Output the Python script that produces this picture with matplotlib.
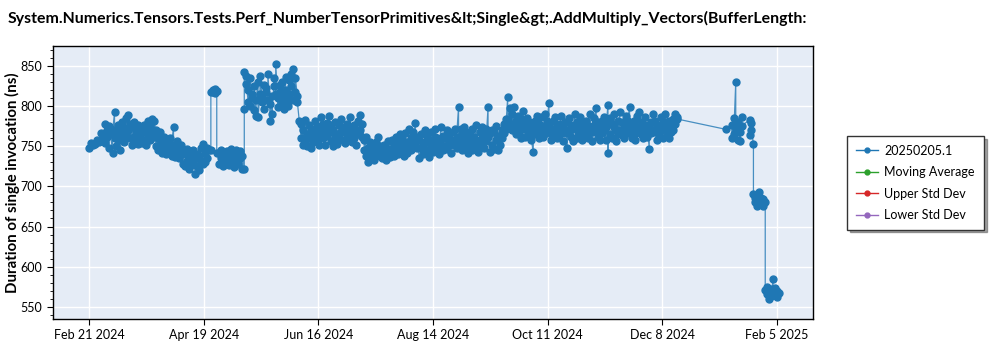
import datetime as dt
import matplotlib
matplotlib.use("Agg")
import matplotlib.pyplot as plt
import matplotlib.dates as mdates
from matplotlib.lines import Line2D
from matplotlib.ticker import MultipleLocator

plt.rcParams['font.family'] = ['Lato', 'DejaVu Sans']

title = "System.Numerics.Tensors.Tests.Perf_NumberTensorPrimitives&lt;Single&gt;.AddMultiply_Vectors(BufferLength:"
legend_names = ["20250205.1", "Moving Average", "Upper Std Dev", "Lower Std Dev"]
legend_colors = ["#1f77b4", "#2ca02c", "#d62728", "#9467bd"]
tick_labels = ["Feb 21 2024", "Apr 19 2024", "Jun 16 2024", "Aug 14 2024",
               "Oct 11 2024", "Dec 8 2024", "Feb 5 2025"]

# runs per day, each segment starts at a day offset from Feb 21 2024
base = dt.datetime(2024, 2, 21)

start_a = 0
runs_a = [[748], [754], [752], [753], [758], [755], [767], [760], [754, 778], [770, 762],
          [775, 748], [772, 765], [742, 768], [792, 760], [770, 750], [776, 758], [768, 745],
          [780, 762], [773, 755], [785, 764], [789, 770], [760, 778], [752, 774], [780, 762],
          [768, 756], [777, 753], [760, 772], [754, 768], [776, 758], [770, 752], [781, 763],
          [758, 775], [784, 766], [762, 782], [770, 750], [760, 745], [768, 752], [757, 742],
          [748, 762], [755, 740], [744, 758], [760, 748], [738, 752], [774, 745], [750, 737],
          [742, 756], [735, 748], [752, 740], [728, 745], [740, 725], [732, 746], [722, 738],
          [742, 726], [730, 745], [716, 735], [740, 725], [720, 738], [732, 748], [753, 728],
          [742, 730], [735, 748], [745], [745, 818], [820, 817], [821, 816], [819, 742]]

start_b = 66
runs_b = [[742, 728], [735, 745], [725, 738], [741, 730], [733, 744], [726, 737], [747, 732],
          [730, 742], [738, 724], [745, 731], [728, 740], [735, 744], [722, 738], [722, 796, 842]]

start_c = 80
runs_c = [[838, 828], [805, 820], [800, 835], [810, 815], [795, 825], [788, 808], [830, 786],
          [815, 838], [812, 805], [826, 796], [818, 822], [808, 840], [802, 782], [812, 790],
          [825, 835], [815, 852], [810, 799], [826, 818], [805, 830], [796, 812], [836, 820],
          [808, 800], [832, 815], [840, 825], [808, 846], [818, 835], [812, 805], [781]]

start_d = 108
runs_d = [[760, 778], [752, 770], [783, 757], [765, 750], [776, 760], [748, 772], [768, 755],
          [782, 762], [758, 775], [770, 752], [786, 766], [760, 778], [752, 772], [779, 763],
          [788, 768], [756, 776], [770, 750], [780, 762], [765, 753], [776, 760], [784, 768],
          [758, 774], [770, 754], [778, 764], [760, 775], [787, 768], [755, 772], [776, 760],
          [768, 752], [781, 765], [789, 770], [762, 778]]

start_e = 140
runs_e = [[758, 745], [762, 738], [748, 730], [742, 755], [736, 750], [745, 733], [755, 740],
          [761, 744], [738, 750], [745, 735], [752, 737], [733, 748], [740, 756], [746, 736],
          [758, 742], [750, 738], [762, 745], [740, 755], [748, 765], [760, 744], [738, 752],
          [766, 748], [755, 742], [772, 750], [745, 760], [768, 752], [779, 755], [748, 762]]

start_f = 168
runs_f = [[735, 758], [765, 748], [752, 740], [770, 755], [745, 762], [736, 758], [768, 750],
          [755, 743], [762, 772], [748, 760], [757, 740], [774, 752], [745, 763], [760, 750],
          [770, 746], [753, 765], [742, 758], [768, 752], [756, 772], [748, 762], [799, 760],
          [752, 771], [765, 745], [774, 758], [750, 766], [760, 742], [768, 754], [745, 772],
          [762, 750], [776, 758], [755, 743], [768, 752], [760, 774], [748, 765], [771, 756],
          [799, 762], [743, 766], [770, 752], [747, 768], [758, 775], [745, 763], [763, 752],
          [770, 760], [778, 766], [784, 772], [811, 783], [797, 775]]

start_g = 215
runs_g = [[790, 770], [799, 778], [782, 765], [775, 788], [768, 780], [760, 784], [794, 772],
          [778, 762], [785, 770], [764, 780], [772, 758], [743, 776], [782, 765], [770, 788],
          [760, 778], [786, 768], [775, 762], [790, 770], [766, 782], [804, 775], [772, 758],
          [781, 765], [768, 786], [760, 775], [778, 764], [788, 770], [756, 774], [780, 766],
          [770, 748], [785, 768], [762, 777], [775, 756], [790, 772], [760, 780], [776, 764],
          [786, 770], [758, 778], [772, 762], [781, 766], [760, 775], [790, 772], [768, 756],
          [776, 785], [797, 770], [762, 780], [775, 758], [782, 766], [770, 786], [758, 774],
          [801, 742, 778], [785, 765], [760, 778], [774, 790], [756, 770], [782, 765], [792, 770],
          [764, 780], [776, 760], [788, 772], [766, 782], [799, 776], [770, 760], [781, 765],
          [758, 775], [772, 788], [793, 770], [765, 780], [778, 760], [786, 770], [762, 776],
          [747, 775], [780, 766], [790, 770], [768, 782], [758, 774], [777, 764], [786, 770],
          [760, 779], [773, 790], [766, 780], [782, 760], [775, 768], [784, 770], [778, 790],
          [786, 784]]

start_h = 324
runs_h = [[771], [], [], [776, 760], [785, 765], [830, 772], [758, 780], [768, 756], [787, 775],
          [], [], [], [783, 764], [779, 770], [753, 690], [685, 680], [688, 676], [682, 693],
          [678, 686], [684, 675], [681, 571], [566, 575], [560, 570], [572, 563], [585, 568],
          [565, 574], [570, 562], [567]]

segments = [(start_a, runs_a), (start_b, runs_b), (start_c, runs_c), (start_d, runs_d),
            (start_e, runs_e), (start_f, runs_f), (start_g, runs_g), (start_h, runs_h)]

dates = []
values = []
for start, runs in segments:
    for i, day_runs in enumerate(runs):
        for v in day_runs:
            dates.append(base + dt.timedelta(days=start + i))
            values.append(v)

fig = plt.figure(figsize=(10, 3.5), dpi=100)
ax = fig.add_axes([0.053, 0.089, 0.76, 0.78])
ax.set_facecolor("#e5ecf6")

ax.plot(dates, values, color="#1f77b4", lw=0.9, alpha=0.8, zorder=2)
ax.plot(dates, values, ls="none", marker="o", ms=5, color="#1f77b4", mec="#1f77b4", zorder=3)

# fixed ticks every 350/6 days, like the original
x0 = mdates.date2num(base)
ticks = [x0 + k * 350 / 6 for k in range(7)]
ax.set_xticks(ticks)
ax.set_xticklabels(tick_labels, fontsize=9)
ax.set_xlim(x0 - 18.3, x0 + 368.3)

ax.set_ylim(535, 875)
ax.yaxis.set_major_locator(MultipleLocator(50))
ax.yaxis.set_minor_locator(MultipleLocator(10))
ax.tick_params(axis="y", labelsize=9)
ax.tick_params(axis="both", which="major", length=4, width=0.8, direction="out")
ax.tick_params(axis="y", which="minor", length=2, width=0.6)

ax.grid(True, color="white", lw=1)
ax.set_axisbelow(True)
for sp in ax.spines.values():
    sp.set_color("black")
    sp.set_linewidth(1)

ax.set_ylabel("Duration of single invocation (ns)", fontsize=10.8, fontweight="bold")
ax.yaxis.set_label_coords(-0.043, 0.5)

fig.text(0.008, 1 - 18 / 350, title, fontsize=11.4, fontweight="bold", ha="left", va="center")

handles = [Line2D([], [], color=c, lw=1, marker="o", ms=3.5) for c in legend_colors]
leg = fig.legend(handles, legend_names, loc="upper left", bbox_to_anchor=(0.847, 1 - 136 / 350),
                 bbox_transform=fig.transFigure, fontsize=9, frameon=True, fancybox=False,
                 shadow=True, borderaxespad=0, handlelength=1.8, handletextpad=0.5,
                 labelspacing=0.75, borderpad=0.7)
leg.get_frame().set_edgecolor("#333333")
leg.get_frame().set_linewidth(1)

fig.savefig("out.png", dpi=100)
